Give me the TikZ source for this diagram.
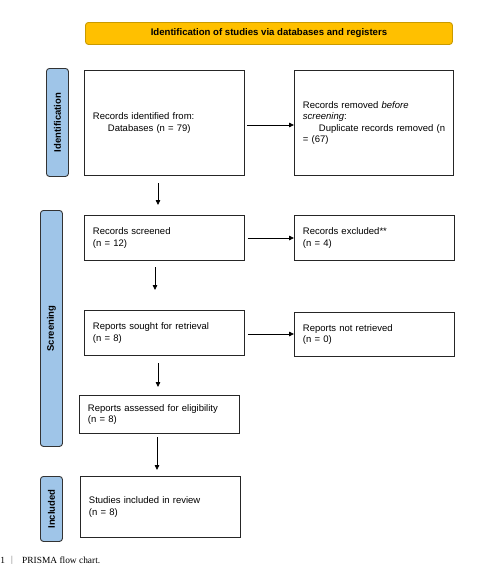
\documentclass[tikz,border=0pt]{standalone}
\usepackage{fontspec}
\setmainfont{Liberation Sans}
\newfontfamily\capfont{Liberation Serif}
\usetikzlibrary{arrows.meta}
\definecolor{bannerfill}{HTML}{FFC000}
\definecolor{bannerdraw}{HTML}{C99A00}
\definecolor{phasefill}{HTML}{9FC5E8}
\definecolor{phasedraw}{HTML}{333333}
\tikzset{
  stagebox/.style={draw=black!85, line width=0.9pt, fill=white, rectangle, inner xsep=8.5pt, inner ysep=0pt,
     align=left, font=\fontsize{9.5}{11.3}\selectfont, anchor=north west},
  phase/.style={draw=phasedraw, line width=0.9pt, fill=phasefill, rounded corners=3pt, anchor=north west,
     font=\bfseries\fontsize{9.5}{11}\selectfont},
  flow/.style={line width=0.8pt, -{Triangle[length=5pt,width=4.5pt]}},
}
\begin{document}
\begin{tikzpicture}[x=1pt,y=-1pt]
\useasboundingbox (0,0) rectangle (488,568);
% banner
\node[draw=bannerdraw, fill=bannerfill, line width=0.9pt, rounded corners=3pt, anchor=north west,
  minimum width=367pt, minimum height=22pt, font=\bfseries\fontsize{9.6}{11}\selectfont] (banner) at (85,22)
  {Identification of studies via databases and registers};
% phase labels
\node[phase, minimum width=22pt, minimum height=108pt] (pid) at (46,68) {};
\node[rotate=90, font=\bfseries\fontsize{9.5}{11}\selectfont] (pidt) at (pid.center) {Identification};
\node[phase, minimum width=22pt, minimum height=236pt] (psc) at (40,210) {};
\node[rotate=90, font=\bfseries\fontsize{9.5}{11}\selectfont] (psct) at (psc.center) {Screening};
\node[phase, minimum width=22pt, minimum height=65pt] (pin) at (40,476) {};
\node[rotate=90, font=\bfseries\fontsize{9.5}{11}\selectfont] (pint) at (pin.center) {Included};
% boxes
\node[stagebox, text width=143pt, minimum height=105pt] (b1) at (84,70)
  {Records identified from:\\\hspace*{15pt}Databases (n = 79)};
\node[stagebox, text width=142pt, minimum height=105pt] (b2) at (294,70)
  {Records removed \textit{before}\\\textit{screening}:\\\hspace*{16pt}\mbox{Duplicate records removed (n}\\= (67)};
\node[stagebox, text width=143pt, minimum height=45pt] (b3) at (84,215)
  {Records screened\\(n = 12)};
\node[stagebox, text width=143pt, minimum height=45pt] (b4) at (294,215)
  {Records excluded**\\(n = 4)};
\node[stagebox, text width=143pt, minimum height=45pt] (b5) at (84,310)
  {Reports sought for retrieval\\(n = 8)};
\node[stagebox, text width=143pt, minimum height=44pt] (b6) at (294,312)
  {Reports not retrieved\\(n = 0)};
\node[stagebox, text width=143pt, minimum height=38pt] (b7) at (79,395)
  {Reports assessed for eligibility\\(n = 8)};
\node[stagebox, text width=143pt, minimum height=61pt] (b8) at (80,476)
  {Studies included in review\\(n = 8)};
% coordinates for arrows
\coordinate (a1s) at (158,183); \coordinate (a1e) at (158,205);
\coordinate (a2s) at (155,267); \coordinate (a2e) at (155,290);
\coordinate (a3s) at (158,363); \coordinate (a3e) at (158,387);
\coordinate (a4s) at (157,437); \coordinate (a4e) at (157,470);
\draw[flow] (b1.east |- 0,125) ++(2,0) -- (b2.west |- 0,125);
\draw[flow] (b3.east |- 0,238) ++(3,0) -- (b4.west |- 0,238);
\draw[flow] (b5.east |- 0,334) ++(3,0) -- (b6.west |- 0,334);
\draw[flow] (a1s) -- (a1e);
\draw[flow] (a2s) -- (a2e);
\draw[flow] (a3s) -- (a3e);
\draw[flow] (a4s) -- (a4e);
% caption
\node[anchor=base west, font=\capfont\fontsize{9.4}{11}\selectfont, inner sep=0pt] (capnum) at (0.3,563) {1};
\node[anchor=base, font=\capfont\fontsize{9}{11}\selectfont, text=black!60, inner sep=0pt] (capbar) at (12,562) {|};
\node[anchor=base west, font=\capfont\fontsize{9.4}{11}\selectfont, inner sep=0pt] (cap) at (22,563) {PRISMA flow chart.};
\end{tikzpicture}
\end{document}
